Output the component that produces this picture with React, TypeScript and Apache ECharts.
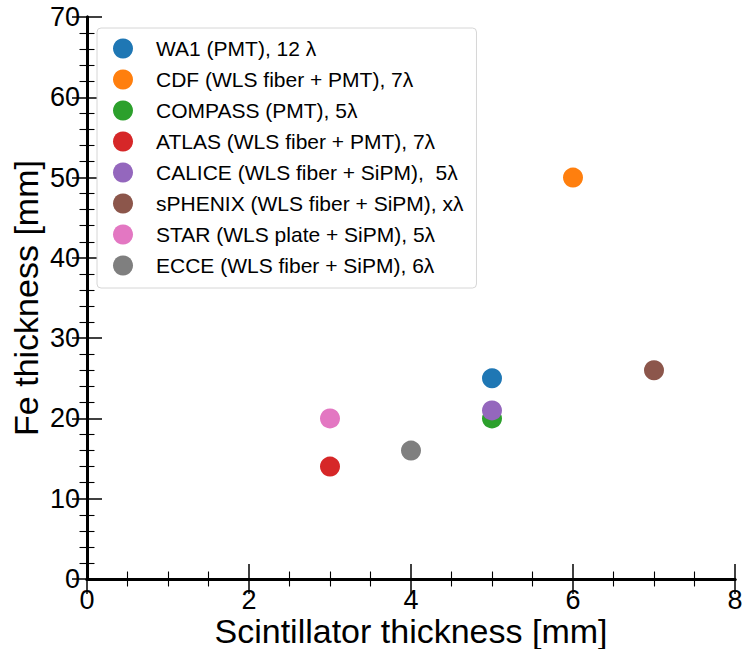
import React, { useEffect, useRef } from "react";
import * as echarts from "echarts";

const detectors = [
  "WA1 (PMT), 12 λ",
  "CDF (WLS fiber + PMT), 7λ",
  "COMPASS (PMT), 5λ",
  "ATLAS (WLS fiber + PMT), 7λ",
  "CALICE (WLS fiber + SiPM),  5λ",
  "sPHENIX (WLS fiber + SiPM), xλ",
  "STAR (WLS plate + SiPM), 5λ",
  "ECCE (WLS fiber + SiPM), 6λ",
];
const scintillatorThickness = [5, 6, 5, 3, 5, 7, 3, 4];
const feThickness = [25, 50, 20, 14, 21, 26, 20, 16];
const colors = [
  "#1f77b4",
  "#ff7f0e",
  "#2ca02c",
  "#d62728",
  "#9467bd",
  "#8c564b",
  "#e377c2",
  "#7f7f7f",
];

const FONT = "'Liberation Sans', Arial, Helvetica, sans-serif";

export default function App() {
  const ref = useRef<HTMLDivElement>(null);
  useEffect(() => {
    if (!ref.current) return;
    const chart = echarts.init(ref.current, undefined, { renderer: "svg" });
    const axisLine = { show: true, lineStyle: { color: "#000", width: 3 } };
    const axisTick = { show: true, inside: true, length: 15, lineStyle: { color: "#000", width: 1.5 } };
    const minorTickLine = { color: "#000", width: 1.1 };
    const labelStyle = { color: "#000", fontSize: 27, fontFamily: FONT, lineHeight: 23 };
    const nameStyle = { color: "#000", fontSize: 34, fontFamily: FONT, lineHeight: 34 };
    const option: any = {
      animation: false,
      backgroundColor: "#fff",
      textStyle: { fontFamily: FONT },
      grid: { left: 87, right: 8, top: 17, bottom: 70, containLabel: false, outerBoundsMode: "none" },
      xAxis: [
        {
          type: "value",
          position: "bottom",
          min: 0,
          max: 8,
          interval: 2,
          name: "Scintillator thickness [mm]",
          nameLocation: "middle",
          nameGap: 35,
          nameMoveOverlap: false,
          nameTextStyle: nameStyle,
          axisLine,
          axisTick,
          minorTick: { show: true, splitNumber: 4, length: 7.5, lineStyle: minorTickLine },
          splitLine: { show: false },
          minorSplitLine: { show: false },
          axisLabel: { ...labelStyle, margin: 9 },
        },
        {
          type: "value",
          position: "top",
          min: 0,
          max: 8,
          interval: 2,
          axisLine,
          axisTick,
          minorTick: { show: true, splitNumber: 4, length: 7.5, lineStyle: minorTickLine },
          splitLine: { show: false },
          axisLabel: { show: false },
        },
      ],
      yAxis: [
        {
          type: "value",
          position: "left",
          min: 0,
          max: 70,
          interval: 10,
          name: "Fe thickness [mm]",
          nameLocation: "middle",
          nameGap: 44,
          nameMoveOverlap: false,
          nameTextStyle: nameStyle,
          axisLine,
          axisTick,
          minorTick: { show: true, splitNumber: 5, length: 7.5, lineStyle: minorTickLine },
          splitLine: { show: false },
          axisLabel: { ...labelStyle, margin: 7 },
        },
        {
          type: "value",
          position: "right",
          min: 0,
          max: 70,
          interval: 10,
          axisLine,
          axisTick,
          minorTick: { show: true, splitNumber: 5, length: 7.5, lineStyle: minorTickLine },
          splitLine: { show: false },
          axisLabel: { show: false },
        },
      ],
      legend: {
        orient: "vertical",
        left: 97,
        top: 28,
        padding: [10, 13, 12, 16],
        itemGap: 10,
        itemWidth: 20,
        itemHeight: 20,
        icon: "circle",
        backgroundColor: "#fff",
        borderColor: "#d6d6d6",
        borderWidth: 1,
        borderRadius: 4,
        textStyle: { color: "#000", fontSize: 21, fontFamily: FONT, lineHeight: 20, padding: [0, 0, 0, 18] },
        data: detectors,
      },
      series: detectors.map((name, i) => ({
        type: "scatter",
        name,
        xAxisIndex: 0,
        yAxisIndex: 0,
        symbol: "circle",
        symbolSize: 20,
        itemStyle: { color: colors[i], opacity: 1 },
        data: [[scintillatorThickness[i], feThickness[i]]],
        z: 3,
      })),
    };
    chart.setOption(option);
    return () => chart.dispose();
  }, []);
  return (
    <div
      ref={ref}
      style={{ position: "absolute", left: 0, top: 0, width: 743, height: 649 }}
    />
  );
}
